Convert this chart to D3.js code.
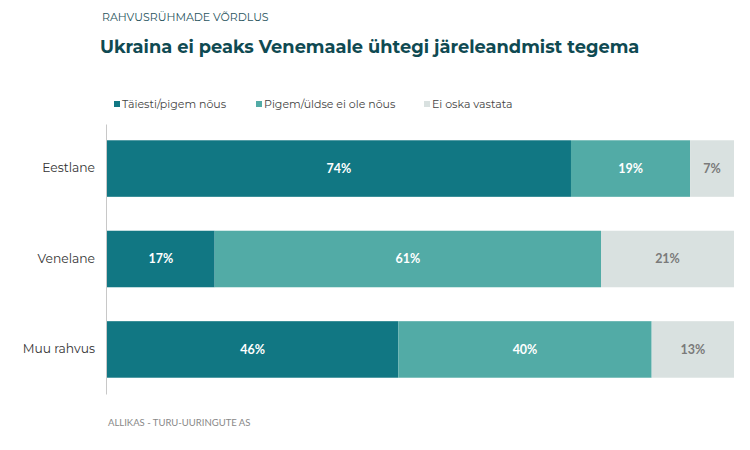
<!DOCTYPE html>
<html>
<head>
<meta charset="utf-8">
<script src="https://cdn.jsdelivr.net/npm/d3@7"></script>
<style>
body { margin: 0; background: #fff; }
</style>
</head>
<body>
<script>
const categories = ["Eestlane", "Venelane", "Muu rahvus"];
const seriesNames = ["Täiesti/pigem nõus", "Pigem/üldse ei ole nõus", "Ei oska vastata"];
const agree = [74, 17, 46];
const disagree = [19, 61, 40];
const dontKnow = [7, 21, 13];

const colors = ["#117783", "#52aba6", "#d9e1e0"];
const labelColors = ["#ffffff", "#ffffff", "#7a7a7a"];

const width = 750;
const height = 450;

const svg = d3.select("body")
	.append("svg")
	.attr("width", width)
	.attr("height", height)
	.style("font-family", "Montserrat, 'Open Sans', sans-serif");

svg.append("text")
	.attr("x", 102)
	.attr("y", 21)
	.attr("font-size", 11)
	.attr("fill", "#2a5560")
	.text("RAHVUSRÜHMADE VÕRDLUS");

svg.append("text")
	.attr("x", 100)
	.attr("y", 53)
	.attr("font-size", 17.8)
	.attr("font-weight", "bold")
	.attr("fill", "#0f4a52")
	.text("Ukraina ei peaks Venemaale ühtegi järeleandmist tegema");

// rows of normalized shares
const rows = categories.map((c, i) => {
	const vals = [agree[i], disagree[i], dontKnow[i]];
	const total = d3.sum(vals);
	let acc = 0;
	return vals.map((v, k) => {
		const seg = {cat: c, k: k, value: v, x0: acc / total, x1: (acc + v) / total};
		acc += v;
		return seg;
	});
});

const x = d3.scaleLinear().domain([0, 1]).range([107, 734]);
const y = d3.scaleBand().domain(categories).range([124, 394]).paddingInner(0.375).paddingOuter(0.18);

// legend
const legendX = [114, 256, 424];
const legend = svg.selectAll(".legend")
	.data(seriesNames)
	.enter()
	.append("g")
	.attr("transform", (d, i) => `translate(${legendX[i]},108)`);

legend.append("rect")
	.attr("x", 0)
	.attr("y", -7)
	.attr("width", 6)
	.attr("height", 6)
	.attr("fill", (d, i) => colors[i]);

legend.append("text")
	.attr("x", 8)
	.attr("y", 0)
	.attr("font-size", 11)
	.attr("fill", "#444")
	.text(d => d);

const group = svg.selectAll(".row")
	.data(rows)
	.enter()
	.append("g");

group.selectAll("rect")
	.data(d => d)
	.enter()
	.append("rect")
	.attr("x", d => x(d.x0))
	.attr("y", d => y(d.cat))
	.attr("width", d => x(d.x1) - x(d.x0))
	.attr("height", y.bandwidth())
	.attr("fill", d => colors[d.k]);

group.selectAll("text")
	.data(d => d)
	.enter()
	.append("text")
	.attr("x", d => (x(d.x0) + x(d.x1)) / 2)
	.attr("y", d => y(d.cat) + y.bandwidth() / 2)
	.attr("dy", "0.35em")
	.attr("text-anchor", "middle")
	.attr("font-family", "Lato, 'Open Sans', sans-serif")
	.attr("font-size", 12.5)
	.attr("font-weight", "bold")
	.attr("fill", d => labelColors[d.k])
	.text(d => d.value + "%");

const axisY = d3.axisLeft(y).tickSize(0).tickPadding(11);

const gy = svg.append("g")
	.attr("transform", "translate(106,0)")
	.call(axisY);

gy.select(".domain")
	.attr("stroke", "#c8c8c8");

gy.selectAll("text")
	.attr("font-family", "Montserrat, 'Open Sans', sans-serif")
	.attr("font-size", 12.3)
	.attr("fill", "#333");

svg.append("text")
	.attr("x", 108)
	.attr("y", 426)
	.attr("font-family", "Lato, 'Open Sans', sans-serif")
	.attr("font-size", 9.5)
	.attr("fill", "#888")
	.text("ALLIKAS - TURU-UURINGUTE AS");
</script>
</body>
</html>
